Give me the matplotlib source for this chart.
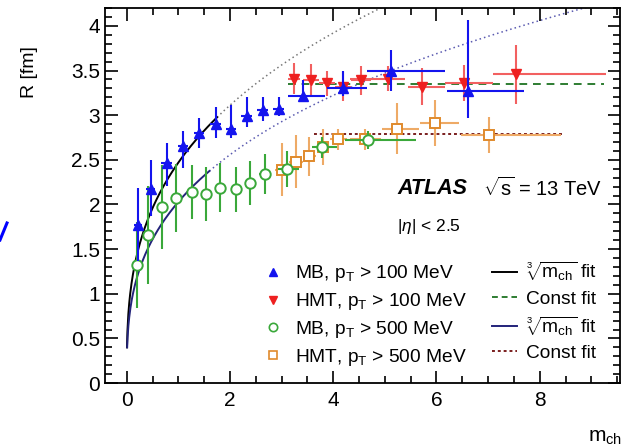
import numpy as np
import matplotlib
matplotlib.use("Agg")
import matplotlib.pyplot as plt
from matplotlib.lines import Line2D
from matplotlib.ticker import MultipleLocator, FormatStrFormatter

plt.rcParams['font.family'] = ['Liberation Sans', 'DejaVu Sans']
plt.rcParams['mathtext.fontset'] = 'custom'
plt.rcParams['mathtext.rm'] = 'Liberation Sans'
plt.rcParams['mathtext.it'] = 'Liberation Sans:italic'
plt.rcParams['mathtext.bf'] = 'Liberation Sans:bold'

# MB, pT > 100 MeV
mb100_x = [0.22, 0.46, 0.77, 1.09, 1.40, 1.72, 2.02, 2.32, 2.63, 2.94, 3.42, 4.19, 5.11, 6.61]
mb100_y = [1.77, 2.17, 2.47, 2.65, 2.80, 2.90, 2.84, 2.99, 3.06, 3.07, 3.22, 3.30, 3.49, 3.27]
mb100_xlo = [0.08, 0.08, 0.1, 0.1, 0.1, 0.1, 0.1, 0.1, 0.1, 0.1, 0.29, 0.31, 0.45, 0.41]
mb100_xhi = [0.08, 0.08, 0.1, 0.1, 0.1, 0.1, 0.1, 0.1, 0.1, 0.1, 0.43, 0.47, 1.06, 1.09]
mb100_ylo = [0.40, 0.30, 0.26, 0.24, 0.17, 0.16, 0.10, 0.12, 0.12, 0.08, 0.06, 0.08, 0.22, 0.30]
mb100_yhi = [0.42, 0.33, 0.22, 0.17, 0.17, 0.19, 0.27, 0.21, 0.14, 0.13, 0.17, 0.20, 0.24, 0.80]

# HMT, pT > 100 MeV
hmt100_x = [3.24, 3.57, 3.88, 4.19, 4.54, 5.07, 5.72, 6.53, 7.55]
hmt100_y = [3.41, 3.39, 3.36, 3.32, 3.39, 3.41, 3.32, 3.36, 3.46]
hmt100_xlo = [0.12, 0.15, 0.15, 0.15, 0.2, 0.74, 0.28, 0.36, 0.45]
hmt100_xhi = [0.12, 0.15, 0.15, 0.15, 0.2, 0.33, 0.45, 0.57, 1.73]
hmt100_ye = [0.17, 0.18, 0.14, 0.16, 0.16, 0.14, 0.21, 0.20, 0.33]

# MB, pT > 500 MeV
mb500_x = [0.20, 0.41, 0.69, 0.96, 1.26, 1.53, 1.81, 2.11, 2.39, 2.67, 3.11, 3.78, 4.67]
mb500_y = [1.32, 1.66, 1.97, 2.07, 2.14, 2.12, 2.19, 2.17, 2.24, 2.34, 2.40, 2.64, 2.72]
mb500_xlo = [0.08, 0.1, 0.1, 0.1, 0.1, 0.1, 0.1, 0.1, 0.1, 0.1, 0.18, 0.2, 0.45]
mb500_xhi = [0.08, 0.1, 0.1, 0.1, 0.1, 0.1, 0.1, 0.1, 0.1, 0.1, 0.22, 0.3, 0.93]
mb500_ye = [0.48, 0.55, 0.47, 0.38, 0.30, 0.30, 0.27, 0.25, 0.25, 0.22, 0.20, 0.12, 0.10]

# HMT, pT > 500 MeV
hmt500_x = [3.00, 3.28, 3.54, 3.80, 4.10, 4.62, 5.24, 5.98, 7.02]
hmt500_y = [2.39, 2.48, 2.54, 2.64, 2.73, 2.73, 2.85, 2.91, 2.78]
hmt500_xlo = [0.12, 0.13, 0.13, 0.13, 0.16, 0.3, 0.29, 0.29, 0.55]
hmt500_xhi = [0.12, 0.13, 0.13, 0.13, 0.16, 0.3, 0.42, 0.45, 1.39]
hmt500_ye = [0.30, 0.30, 0.22, 0.20, 0.12, 0.12, 0.29, 0.26, 0.20]

# fits
cbrt100_a, cbrt100_end = 2.47, 1.75
cbrt500_a, cbrt500_end = 2.03, 1.60
const100_y, const100_range = 3.35, (3.13, 9.24)
const500_y, const500_range = 2.785, (3.62, 8.44)

blue = '#1414ee'
red = '#ee2020'
green = '#3aa83a'
orange = '#e08a2c'
navy = '#23237a'

fig = plt.figure(figsize=(6.33, 4.47), dpi=100)
ax = fig.add_axes([0.166, 0.143, 0.813, 0.839])
xmax = 9.55

# cube root fits (solid in fit range, dotted extrapolation)
for a, end, col, dcol in [(cbrt100_a, cbrt100_end, 'black', '#777777'),
                          (cbrt500_a, cbrt500_end, navy, '#5a5ab0')]:
    x0 = (0.4 / a) ** 3
    xs = np.linspace(x0, end, 200)
    ax.plot(xs, a * np.cbrt(xs), color=col, lw=1.4, zorder=3)
    xd = np.linspace(end, xmax, 300)
    ax.plot(xd, a * np.cbrt(xd), color=dcol, lw=1.1, ls=(0, (1, 2)), zorder=1)

ax.plot(const100_range, [const100_y] * 2, color='#2e7d32', lw=1.4, ls=(0, (4, 3)), zorder=3)
ax.plot(const500_range, [const500_y] * 2, color='#7a1e1e', lw=1.4, ls=(0, (1.5, 1.5)), zorder=3)

ekw = dict(capsize=0, elinewidth=1.5, ls='none')
ax.errorbar(hmt500_x, hmt500_y, xerr=[hmt500_xlo, hmt500_xhi], yerr=hmt500_ye,
            color=orange, ecolor='#eeaa66', marker='s', ms=7, mfc='white', mec=orange,
            mew=1.4, zorder=4, **ekw)
ax.errorbar(mb500_x, mb500_y, xerr=[mb500_xlo, mb500_xhi], yerr=mb500_ye,
            color=green, marker='o', ms=7.5, mfc='white', mec=green, mew=1.4, zorder=5, **ekw)
ax.errorbar(hmt100_x, hmt100_y, xerr=[hmt100_xlo, hmt100_xhi], yerr=hmt100_ye,
            color=red, ecolor='#f26060', marker='v', ms=7, zorder=5, **ekw)
ax.errorbar(mb100_x, mb100_y, xerr=[mb100_xlo, mb100_xhi], yerr=[mb100_ylo, mb100_yhi],
            color=blue, marker='^', ms=7, zorder=6, **ekw)

ax.set_xlim(-0.42, xmax)
ax.set_ylim(0, 4.2)
ax.xaxis.set_major_locator(MultipleLocator(2))
ax.xaxis.set_minor_locator(MultipleLocator(0.5))
ax.yaxis.set_major_locator(MultipleLocator(0.5))
ax.yaxis.set_minor_locator(MultipleLocator(0.1))
ax.yaxis.set_major_formatter(FormatStrFormatter('%g'))
ax.tick_params(which='both', direction='in', top=True, right=True, labelsize=15, width=1.2)
ax.tick_params(which='major', length=9)
ax.tick_params(which='minor', length=5)
ax.tick_params(axis='x', pad=6)
for s in ax.spines.values():
    s.set_linewidth(1.3)

ax.set_ylabel('R [fm]', fontsize=14)
ax.yaxis.set_label_coords(-0.13, 0.83)
ax.set_xlabel(r'$\mathrm{m_{ch}}$', fontsize=15)
ax.xaxis.set_label_coords(0.971, -0.12)

ax.text(0.568, 0.52, 'ATLAS', transform=ax.transAxes, fontsize=15.5,
        fontweight='bold', fontstyle='italic', va='center')
ax.text(0.735, 0.52, r'$\sqrt{\mathrm{s}}$ = 13 TeV', transform=ax.transAxes,
        fontsize=14.5, va='center')
ax.text(0.568, 0.418, r'|$\eta$| < 2.5', transform=ax.transAxes, fontsize=12.5, va='center')

handles = [
    Line2D([], [], color=blue, marker='^', ls='none', ms=6),
    Line2D([], [], color=red, marker='v', ls='none', ms=6),
    Line2D([], [], color=green, marker='o', ls='none', ms=6, mfc='white', mew=1.2),
    Line2D([], [], color=orange, marker='s', ls='none', ms=6, mfc='white', mew=1.2),
    Line2D([], [], color='black', lw=1.4),
    Line2D([], [], color='#2e7d32', lw=1.4, ls=(0, (3, 2))),
    Line2D([], [], color=navy, lw=1.4),
    Line2D([], [], color='#7a1e1e', lw=1.4, ls=(0, (1.5, 1.5))),
]
labels = [
    r'MB, $\mathrm{p_T}$ > 100 MeV',
    r'HMT, $\mathrm{p_T}$ > 100 MeV',
    r'MB, $\mathrm{p_T}$ > 500 MeV',
    r'HMT, $\mathrm{p_T}$ > 500 MeV',
    r'$\sqrt[3]{\mathrm{m_{ch}}}$ fit',
    'Const fit',
    r'$\sqrt[3]{\mathrm{m_{ch}}}$ fit',
    'Const fit',
]
ax.legend(handles, labels, ncol=2, frameon=False, fontsize=13.8,
          loc='lower left', bbox_to_anchor=(0.302, 0.04), handlelength=1.3,
          handletextpad=0.5, columnspacing=1.3, labelspacing=0.36, borderpad=0.0,
          borderaxespad=0.0)

fig.add_artist(Line2D([0, 7 / 633], [1 - 240 / 447, 1 - 223 / 447], color='blue',
                      lw=2.2, transform=fig.transFigure))

fig.savefig('out.png', dpi=100)
